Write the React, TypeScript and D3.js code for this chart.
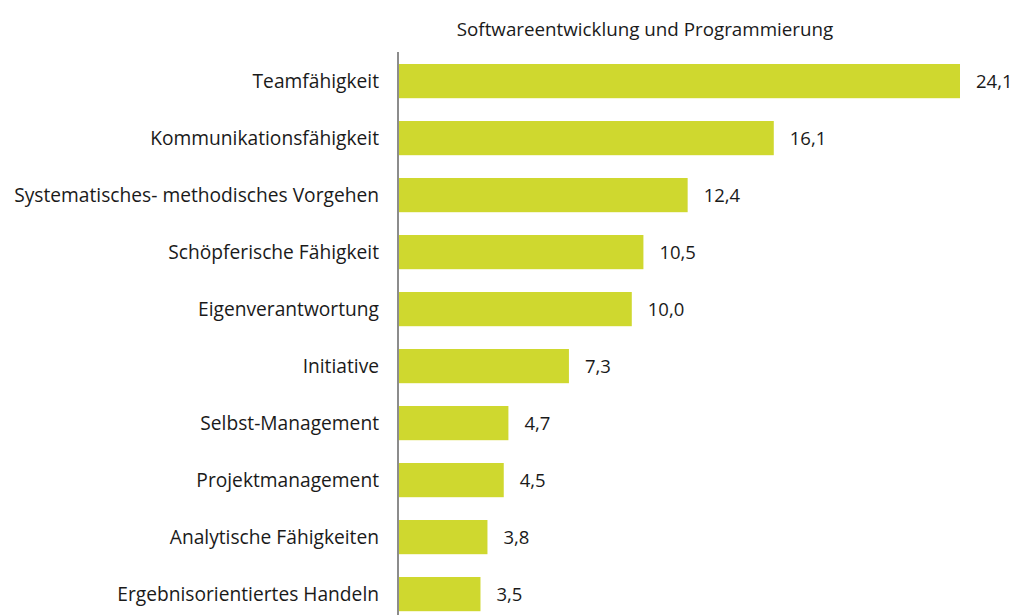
import React from "react";
import { scaleBand, scaleLinear } from "d3";

const title = "Softwareentwicklung und Programmierung";
const categories = [
  "Teamfähigkeit",
  "Kommunikationsfähigkeit",
  "Systematisches- methodisches Vorgehen",
  "Schöpferische Fähigkeit",
  "Eigenverantwortung",
  "Initiative",
  "Selbst-Management",
  "Projektmanagement",
  "Analytische Fähigkeiten",
  "Ergebnisorientiertes Handeln",
];
const values = [24.1, 16.1, 12.4, 10.5, 10.0, 7.3, 4.7, 4.5, 3.8, 3.5];

export default function App() {
  const width = 1016;
  const height = 615;
  const font = "'Open Sans', 'Noto Sans', sans-serif";

  const x = scaleLinear().domain([0, 24.1]).range([399, 960]);
  const y = scaleBand<string>()
    .domain(categories)
    .range([52.6, 622.6])
    .paddingInner(0.4)
    .paddingOuter(0.2);

  const fmt = (v: number) => v.toFixed(1).replace(".", ",");

  return (
    <div style={{ position: "absolute", left: 0, top: 0 }}>
      <svg width={width} height={height} fontFamily={font}>
        <rect width={width} height={height} fill="#ffffff" />
        <text x={645} y={36} textAnchor="middle" fontSize={18.8} fill="#1a1a1a">
          {title}
        </text>
        {categories.map((c, i) => {
          const yy = y(c)!;
          const cy = yy + y.bandwidth() / 2;
          return (
            <g key={c}>
              <rect
                x={x(0)}
                y={yy}
                width={x(values[i]) - x(0)}
                height={y.bandwidth()}
                fill="#cfd82f"
              />
              <text
                x={379}
                y={cy}
                dy="0.35em"
                textAnchor="end"
                fontSize={19.2}
                fill="#1a1a1a"
              >
                {c}
              </text>
              <text x={x(values[i]) + 16} y={cy} dy="0.35em" fontSize={18.5} fill="#1a1a1a">
                {fmt(values[i])}
              </text>
            </g>
          );
        })}
        <line x1={398} x2={398} y1={52} y2={height} stroke="#8c8c8c" strokeWidth={2} />
      </svg>
    </div>
  );
}
